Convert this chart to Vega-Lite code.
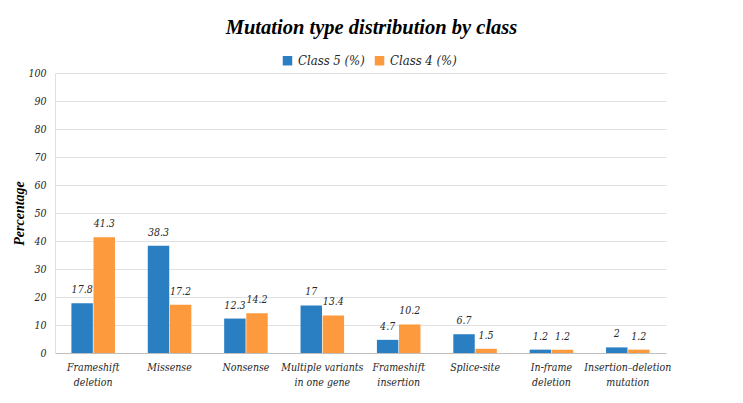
{
  "$schema": "https://vega.github.io/schema/vega-lite/v6.json",
  "width": 611,
  "height": 280,
  "autosize": {"type": "none"},
  "padding": {"left": 55, "top": 73, "right": 77, "bottom": 50},
  "background": "white",
  "title": {
    "text": "Mutation type distribution by class",
    "font": "Liberation Serif",
    "fontSize": 20.5,
    "fontWeight": "bold",
    "fontStyle": "italic",
    "color": "#000000",
    "anchor": "middle",
    "dx": 11,
    "offset": 16
  },
  "data": {
    "values": [
      {"type": "Frameshift deletion", "cls": "Class 5 (%)", "value": 17.8},
      {"type": "Frameshift deletion", "cls": "Class 4 (%)", "value": 41.3},
      {"type": "Missense", "cls": "Class 5 (%)", "value": 38.3},
      {"type": "Missense", "cls": "Class 4 (%)", "value": 17.2},
      {"type": "Nonsense", "cls": "Class 5 (%)", "value": 12.3},
      {"type": "Nonsense", "cls": "Class 4 (%)", "value": 14.2},
      {"type": "Multiple variants in one gene", "cls": "Class 5 (%)", "value": 17},
      {"type": "Multiple variants in one gene", "cls": "Class 4 (%)", "value": 13.4},
      {"type": "Frameshift insertion", "cls": "Class 5 (%)", "value": 4.7},
      {"type": "Frameshift insertion", "cls": "Class 4 (%)", "value": 10.2},
      {"type": "Splice-site", "cls": "Class 5 (%)", "value": 6.7},
      {"type": "Splice-site", "cls": "Class 4 (%)", "value": 1.5},
      {"type": "In-frame deletion", "cls": "Class 5 (%)", "value": 1.2},
      {"type": "In-frame deletion", "cls": "Class 4 (%)", "value": 1.2},
      {"type": "Insertion–deletion mutation", "cls": "Class 5 (%)", "value": 2},
      {"type": "Insertion–deletion mutation", "cls": "Class 4 (%)", "value": 1.2}
    ]
  },
  "encoding": {
    "x": {
      "field": "type",
      "type": "nominal",
      "sort": null,
      "scale": {"paddingInner": 0.43, "paddingOuter": 0.215},
      "axis": {
        "title": null,
        "labelAngle": 0,
        "labelFont": "DejaVu Serif Condensed",
        "labelFontStyle": "italic",
        "labelFontSize": 10.5,
        "labelColor": "#262626",
        "labelPadding": 9,
        "labelLineHeight": 15,
        "labelBaseline": "top",
        "ticks": false,
        "domainColor": "#bfbfbf",
        "domainWidth": 1.2,
        "labelExpr": "datum.label == 'Multiple variants in one gene' ? ['Multiple variants', 'in one gene'] : split(datum.label, ' ')"
      }
    },
    "xOffset": {
      "field": "cls",
      "type": "nominal",
      "sort": ["Class 5 (%)", "Class 4 (%)"],
      "scale": {"paddingInner": 0.03}
    },
    "y": {
      "field": "value",
      "type": "quantitative",
      "scale": {"domain": [0, 100], "nice": false},
      "axis": {
        "title": "Percentage",
        "titleFont": "Liberation Serif",
        "titleFontStyle": "italic",
        "titleFontWeight": "bold",
        "titleFontSize": 14,
        "titleColor": "#000000",
        "titlePadding": 1,
        "values": [0, 10, 20, 30, 40, 50, 60, 70, 80, 90, 100],
        "labelFont": "DejaVu Serif Condensed",
        "labelFontStyle": "italic",
        "labelFontSize": 10.5,
        "labelColor": "#262626",
        "labelPadding": 9,
        "ticks": false,
        "domainColor": "#e0e0e0",
        "gridColor": "#e0e0e0",
        "gridWidth": 1
      }
    }
  },
  "layer": [
    {
      "mark": {"type": "bar"},
      "encoding": {
        "color": {
          "field": "cls",
          "type": "nominal",
          "sort": ["Class 5 (%)", "Class 4 (%)"],
          "scale": {"domain": ["Class 5 (%)", "Class 4 (%)"], "range": ["#2a7fc3", "#fd9a3e"]},
          "legend": {
            "title": null,
            "orient": "none",
            "direction": "horizontal",
            "legendX": 226,
            "legendY": -19,
            "symbolType": "square",
            "symbolSize": 90,
            "symbolStrokeWidth": 0,
            "labelFont": "DejaVu Serif Condensed",
            "labelFontStyle": "italic",
            "labelFontSize": 13,
            "labelColor": "#262626",
            "labelOffset": 4,
            "columnPadding": 8
          }
        }
      }
    },
    {
      "mark": {
        "type": "text",
        "baseline": "bottom",
        "dy": -8,
        "font": "DejaVu Serif Condensed",
        "fontStyle": "italic",
        "fontSize": 10.5,
        "color": "#262626"
      },
      "encoding": {
        "text": {"field": "value", "type": "quantitative"}
      }
    }
  ],
  "config": {
    "view": {"stroke": null}
  }
}
